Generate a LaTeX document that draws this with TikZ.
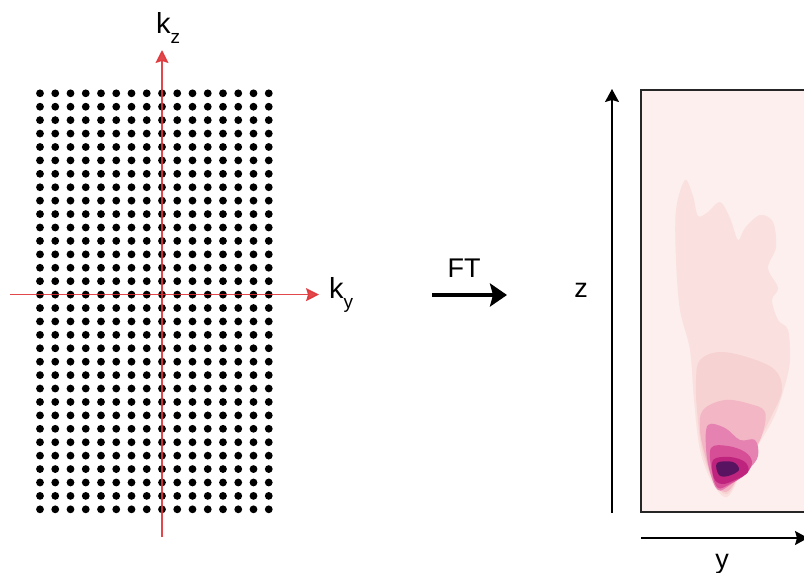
\documentclass[tikz,border=0pt]{standalone}
\usepackage{fontspec}
\setmainfont{Liberation Sans}
\usetikzlibrary{arrows.meta}
\definecolor{axred}{RGB}{222,52,56}
\definecolor{hbg}{RGB}{252,239,237}
\definecolor{hla}{RGB}{250,224,223}
\definecolor{hlb}{RGB}{247,210,210}
\definecolor{hlc}{RGB}{242,182,196}
\definecolor{hld}{RGB}{230,130,178}
\definecolor{hlg}{RGB}{214,78,150}
\definecolor{hle}{RGB}{190,36,125}
\definecolor{hlf}{RGB}{88,20,96}
\tikzset{
  redax/.style={axred, line width=1.3pt, opacity=0.9, -{Stealth[length=13pt,width=13pt,inset=2pt]}},
  blkax/.style={black, line width=1.3pt, -{Stealth[length=13pt,width=14pt,inset=2pt]}},
  ftarrow/.style={black, line width=3.8pt, -{Stealth[length=17pt,width=23pt,inset=3pt]}},
  lbl/.style={inner sep=0pt, anchor=base, font=\fontsize{27}{32}\selectfont},
  klbl/.style={inner sep=0pt, anchor=base west, font=\fontsize{29}{32}\selectfont},
  blob/.style={draw=none}
}
\begin{document}
\begin{tikzpicture}[x=1pt,y=-1pt]
\useasboundingbox (0,0) rectangle (804,573);
% dot grid
\foreach \i in {0,...,15} {
  \foreach \j in {0,...,31} {
    \fill[black] ({40+\i*15.25},{93.3+\j*13.42}) circle (3.9pt);
  }
}
% red axes
\coordinate (kzS) at (162,537);
\coordinate (kzE) at (162,50);
\coordinate (kyS) at (10,294.6);
\coordinate (kyE) at (319,294.6);
\draw[redax] (kzS) -- (kzE);
\draw[redax] (kyS) -- (kyE);
\node[klbl] (kz) at (156,33) {k\raisebox{-10pt}{\fontsize{19}{19}\selectfont z}};
\node[klbl] (ky) at (329,298) {k\raisebox{-10pt}{\fontsize{19}{19}\selectfont y}};
% FT arrow
\coordinate (ftS) at (432,295);
\coordinate (ftE) at (507,295);
\draw[ftarrow] (ftS) -- (ftE);
\node[lbl] (ft) at (464,277) {FT};
% heat map
\fill[hbg] (641,90) rectangle (810,512);
\begin{scope}
\clip (641,90) rectangle (804,512);
\fill[hla, blob] plot[smooth cycle, tension=0.55] coordinates {
 (685,180) (693,196) (698,216) (708,212) (720,202) (730,218) (738,240) (745,228)
 (760,215) (773,222) (776,247) (768,268) (778,288) (772,300) (778,320) (788,330)
 (790,360) (785,385) (775,415) (760,442) (743,470) (727,497) (712,482) (700,450)
 (694,400) (690,350) (680,310) (676,260) (676,210)};
\fill[hlb, blob] plot[smooth cycle, tension=0.6] coordinates {
 (700,360) (720,352) (750,358) (775,370) (782,390) (772,415) (758,442) (742,470)
 (727,494) (713,480) (702,450) (697,410) (696,380)};
\fill[hlc, blob] plot[smooth cycle, tension=0.6] coordinates {
 (703,410) (725,400) (750,404) (765,412) (762,435) (750,458) (738,478) (726,492)
 (714,482) (705,455) (700,430)};
\fill[hld, blob] plot[smooth cycle, tension=0.6] coordinates {
 (708,425) (725,428) (740,440) (755,440) (758,456) (748,470) (730,485) (718,490)
 (710,472) (706,448)};
\fill[hlg, blob] plot[smooth cycle, tension=0.6] coordinates {
 (711,448) (728,446) (745,452) (752,462) (746,474) (730,484) (718,488) (712,472)};
\fill[hle, blob] plot[smooth cycle, tension=0.6] coordinates {
 (713,460) (730,457) (745,462) (748,472) (735,480) (722,484) (714,478)};
\fill[hlf, blob] plot[smooth cycle, tension=0.6] coordinates {
 (717,463) (733,462) (739,470) (728,476) (719,475)};
\end{scope}
\draw[black!85, line width=1.4pt] (812,90) -- (641,90) -- (641,512) -- (812,512);
% axes of heat map
\coordinate (zS) at (612,513);
\coordinate (zE) at (612,89);
\coordinate (yS) at (641,538);
\coordinate (yE) at (808,538);
\draw[blkax] (zS) -- (zE);
\draw[blkax] (yS) -- (yE);
\node[lbl] (zl) at (581,297) {z};
\node[lbl] (yl) at (722,568) {y};
\end{tikzpicture}
\end{document}
